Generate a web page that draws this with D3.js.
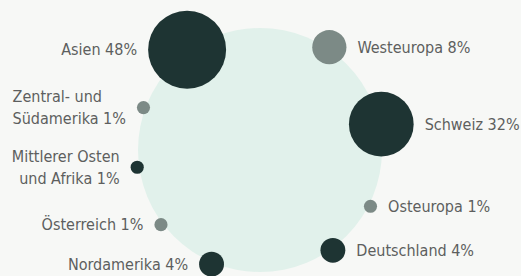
<!DOCTYPE html>
<html>
<head>
<meta charset="utf-8">
<script src="https://cdn.jsdelivr.net/npm/d3@7"></script>
<style>
  html, body { margin: 0; padding: 0; background: #f7f8f6; }
  svg { display: block; }
  text { font-family: "DejaVu Sans Condensed", "DejaVu Sans", sans-serif; font-stretch: condensed; }
</style>
</head>
<body>
<svg id="chart" width="521" height="276"></svg>
<script>
// ---- data ----
const categories = ["Asien", "Westeuropa", "Schweiz", "Osteuropa", "Deutschland",
                    "Nordamerika", "Österreich", "Mittlerer Osten und Afrika", "Zentral- und Südamerika"];
const shares = [48, 8, 32, 1, 4, 4, 1, 1, 1];                       // percent
const groups = ["A", "B", "A", "B", "A", "A", "B", "A", "B"];      // colour group
const clockPos = [324, 34, 78, 117, 144, 203, 233, 262, 290];      // degrees around the ring
const labelLines = [
  ["Asien 48%"], ["Westeuropa 8%"], ["Schweiz 32%"], ["Osteuropa 1%"], ["Deutschland 4%"],
  ["Nordamerika 4%"], ["Österreich 1%"], ["Mittlerer Osten", "und Afrika 1%"], ["Zentral- und", "Südamerika 1%"]
];

// ---- layout ----
const W = 521, H = 276;
const cx = 260, cy = 150, ringR = 124, bgR = 122;
const svg = d3.select("#chart");

const angle = d3.scaleLinear().domain([0, 360]).range([0, 2 * Math.PI]);
const size = d3.scalePow().exponent(0.46).domain([0, 48]).range([0, 39]);
const color = d3.scaleOrdinal().domain(["A", "B"]).range(["#1e3433", "#7c8a86"]);

svg.append("circle")
  .attr("cx", cx).attr("cy", cy).attr("r", bgR)
  .attr("fill", "#e1f1eb");

const data = categories.map((c, i) => ({
  name: c, value: shares[i], group: groups[i], pos: clockPos[i], lines: labelLines[i]
}));

const g = svg.append("g").attr("transform", `translate(${cx},${cy})`);

const node = g.selectAll("g.node").data(data).join("g")
  .attr("class", "node")
  .attr("transform", d => {
    const [x, y] = d3.pointRadial(angle(d.pos), ringR);
    return `translate(${x},${y})`;
  });

node.append("circle")
  .attr("r", d => size(d.value))
  .attr("fill", d => color(d.group));

const lineH = 22, gap = 11;
node.each(function(d) {
  const left = d.pos > 180;
  const r = size(d.value);
  const n = d.lines.length;
  const t = d3.select(this).append("text")
    .attr("font-size", 16)
    .attr("fill", "#5d5f5e")
    .attr("text-anchor", left ? "end" : "start");
  d.lines.forEach((ln, k) => {
    t.append("tspan")
      .attr("x", left ? -(r + gap) : (r + gap))
      .attr("y", (k - (n - 1) / 2) * lineH)
      .attr("dy", "0.35em")
      .text(ln);
  });
  // Zentral- und Südamerika label block is left-aligned in the original
  if (d.name.startsWith("Zentral")) {
    const spans = t.selectAll("tspan").nodes();
    const widths = spans.map(s => s.getComputedTextLength());
    const maxW = d3.max(widths);
    t.attr("text-anchor", "start");
    spans.forEach(s => d3.select(s).attr("x", -(r + gap) - maxW));
  }
});
</script>
</body>
</html>
